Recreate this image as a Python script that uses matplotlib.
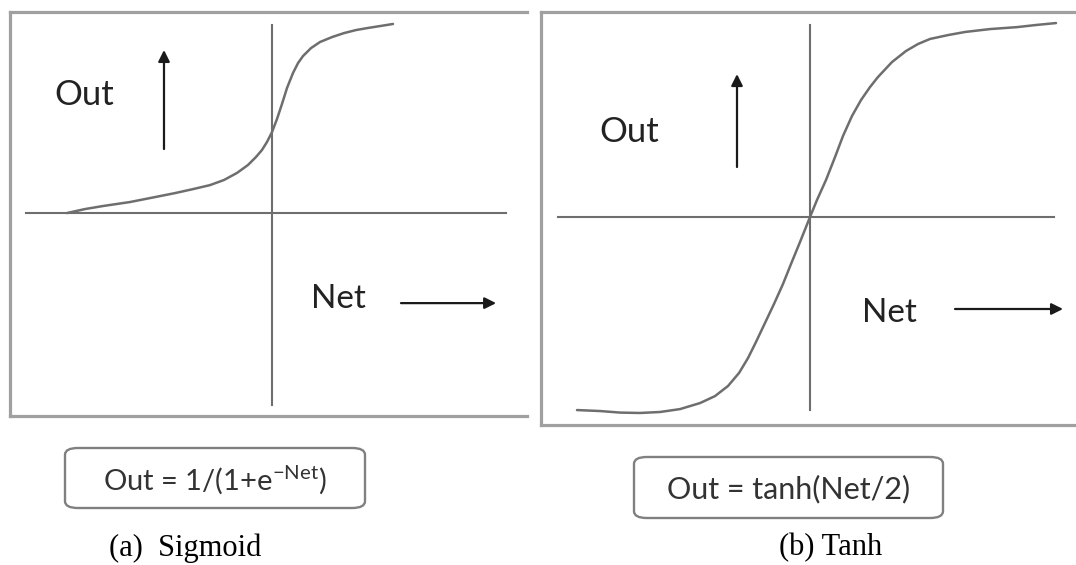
import matplotlib
matplotlib.use("Agg")
import matplotlib.pyplot as plt
from matplotlib.patches import FancyBboxPatch

plt.rcParams['mathtext.fontset'] = 'custom'
plt.rcParams['mathtext.rm'] = 'Lato'

# traced curves (Net, Out) with the origin at the crossing of the drawn axes
sig_net = [-6.833, -6.233, -5.633, -4.733, -3.9, -3.233, -2.633, -2.067, -1.6, -1.167, -0.8, -0.533,
           -0.333, -0.167, 0.0, 0.167, 0.333, 0.5, 0.7, 0.867, 1.033, 1.3, 1.6, 2.0, 2.4, 2.8, 3.2,
           3.6, 4.033]
sig_out = [0.0, 0.021, 0.037, 0.058, 0.084, 0.105, 0.126, 0.147, 0.174, 0.211, 0.253, 0.295,
           0.332, 0.374, 0.426, 0.495, 0.574, 0.658, 0.737, 0.789, 0.826, 0.868, 0.9, 0.926, 0.947,
           0.963, 0.974, 0.984, 0.995]

tanh_net = [-5.825, -5.25, -4.75, -4.25, -3.75, -3.25, -2.75, -2.375, -2.05, -1.775, -1.55, -1.35,
            -1.125, -0.9, -0.675, -0.475, -0.25, 0.0, 0.175, 0.4, 0.625, 0.825, 1.05, 1.275, 1.5,
            1.7, 2.05, 2.4, 2.7, 3.0, 3.45, 3.875, 4.5, 5.175, 5.65, 6.15]
tanh_out = [-0.995, -1.0, -1.008, -1.01, -1.005, -0.99, -0.959, -0.923, -0.871, -0.804, -0.727, -0.644,
            -0.546, -0.448, -0.345, -0.242, -0.129, 0.0, 0.088, 0.191, 0.309, 0.418, 0.521, 0.603, 0.67,
            0.722, 0.799, 0.856, 0.892, 0.918, 0.938, 0.954, 0.969, 0.979, 0.99, 1.0]

formulas = [r"Out = 1/(1+e$^{\mathregular{-Net}}$)", "Out = tanh(Net/2)"]
captions = ["(a)  Sigmoid", "(b) Tanh"]

W, H = 1076, 565
fig = plt.figure(figsize=(W / 100, H / 100), dpi=100)

line_c = '#6e6e6e'
frame_c = '#a0a0a0'
text_c = '#222222'


def px_axes(x0, y0, x1, y1):
    return fig.add_axes([x0 / W, 1 - y1 / H, (x1 - x0) / W, (y1 - y0) / H])


def panel(ax, net, out, xlim, ylim, vext, hext, out_pos, up, net_pos, right):
    ax.set_xlim(*xlim)
    ax.set_ylim(*ylim)
    ax.set_xticks([])
    ax.set_yticks([])
    ax.spines['right'].set_visible(False)
    for s in ['left', 'top', 'bottom']:
        ax.spines[s].set_color(frame_c)
        ax.spines[s].set_linewidth(2.3)
    ax.plot([0, 0], vext, color=line_c, lw=1.5)
    ax.plot(hext, [0, 0], color=line_c, lw=1.5)
    ax.plot(net, out, color=line_c, lw=1.8, solid_capstyle='round', solid_joinstyle='round')
    ax.text(*out_pos, "Out", fontsize=25, family='Lato', color=text_c, ha='center', va='center')
    ax.text(*net_pos, "Net", fontsize=24, family='Lato', color=text_c, ha='center', va='center')
    arr = dict(arrowstyle='-|>', mutation_scale=17, lw=1.6, color='#1a1a1a', shrinkA=0, shrinkB=0)
    ax.annotate("", xy=(up[0], up[2]), xytext=(up[0], up[1]), arrowprops=arr)
    ax.annotate("", xy=(right[1], right[2]), xytext=(right[0], right[2]), arrowprops=arr)


# left panel: origin at pixel (272, 213), 30 px per Net unit, 190 px per Out unit
ax1 = px_axes(10, 12, 527, 416)
panel(ax1, sig_net, sig_out, (-8.733, 8.5), (-1.068, 1.058), (-1.01, 0.989), (-8.2, 7.8),
      (-6.27, 0.62), (-3.6, 0.337, 0.858), (2.23, -0.453), (4.3, 7.47, -0.474))

# right panel: origin at pixel (810, 217), 40 px per Net unit, 194 px per Out unit
ax2 = px_axes(541, 12, 1080, 425)
panel(ax2, tanh_net, tanh_out, (-6.725, 6.75), (-1.072, 1.057), (-0.995, 0.99), (-6.3, 6.1),
      (-4.525, 0.438), (-1.825, 0.258, 0.737), (1.975, -0.495), (3.625, 6.325, -0.474))

boxes = [(65, 448, 365, 508), (634, 457, 943, 518)]
fsizes = [21, 22]
cap_x = [185, 831]
for (x0, y0, x1, y1), f, fs, c, cx in zip(boxes, formulas, fsizes, captions, cap_x):
    p = FancyBboxPatch((x0 / W, 1 - y1 / H), (x1 - x0) / W, (y1 - y0) / H,
                       boxstyle="round,pad=0,rounding_size=0.012", transform=fig.transFigure,
                       fc='white', ec='#808080', lw=1.7)
    fig.patches.append(p)
    fig.text((x0 + x1) / 2 / W, 1 - (y0 + y1 + 4) / 2 / H, f, fontsize=fs, family='Lato',
             color='#333333', ha='center', va='center')
    fig.text(cx / W, 1 - 548 / H, c, fontsize=22, family='Liberation Serif',
             color='black', ha='center', va='center')

fig.savefig("out.png", dpi=100)
